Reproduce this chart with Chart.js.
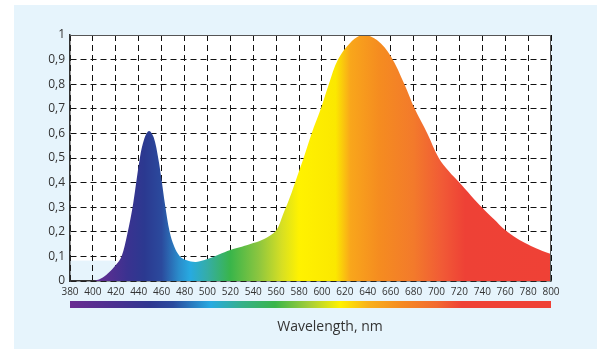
<!DOCTYPE html>
<html>
<head>
<meta charset="utf-8">
<script src="https://cdn.jsdelivr.net/npm/chart.js@4/dist/chart.umd.min.js"></script>
<style>
  html, body { margin: 0; padding: 0; background: #fff; }
  #wrap { position: relative; width: 600px; height: 349px; overflow: hidden; }
  #panel { position: absolute; left: 14px; top: 5px; width: 583px; height: 344px; background: #e6f4fc; }
  #spectrumChart { position: absolute; left: 0; top: 0; }
  #xTitle {
    position: absolute; left: 230px; top: 316px; width: 200px; line-height: 18px;
    text-align: center; font: 14px "Open Sans", sans-serif; color: #333;
  }
</style>
</head>
<body>
<div id="wrap">
  <div id="panel"></div>
  <canvas id="spectrumChart" width="600" height="349"></canvas>
  <div id="xTitle">Wavelength, nm</div>
</div>
<script>
(function () {
  // wavelength (nm) and relative intensity
  const wavelengths = [380, 400, 407, 413, 420, 425, 430, 435, 441, 445, 449, 453, 457, 460, 463, 467, 471, 476, 482, 490, 500, 510, 520, 530, 540, 550, 560, 566, 572, 578, 584, 591, 599, 606, 614, 625, 636, 648, 660, 672, 681, 692, 702, 711, 720, 730, 740, 750, 760, 770, 780, 790, 800];
  const intensity = [0, 0, 0.01, 0.03, 0.065, 0.1, 0.19, 0.31, 0.5, 0.58, 0.61, 0.585, 0.5, 0.41, 0.31, 0.2, 0.14, 0.1, 0.084, 0.077, 0.089, 0.108, 0.126, 0.139, 0.154, 0.172, 0.205, 0.27, 0.34, 0.42, 0.5, 0.6, 0.7, 0.8, 0.9, 0.97, 1.0, 0.98, 0.915, 0.8, 0.7, 0.6, 0.5, 0.445, 0.4, 0.348, 0.298, 0.252, 0.207, 0.174, 0.148, 0.127, 0.11];

  const xTicks = [380, 800, 20]; // min, max, step
  const yTicks = [0, 1, 0.1];

  // colour stops for the filled curve and the spectrum strip (nm -> colour)
  const fillStops = [
    [380, "#6b2c91"], [410, "#5b2e91"], [430, "#3a3290"], [445, "#2b3990"], [460, "#2b4a9d"],
    [475, "#2a8ccb"], [485, "#27aae1"], [500, "#35ada6"], [520, "#39b54a"], [545, "#8dc63f"],
    [565, "#d7df23"], [580, "#fff200"], [612, "#fbe800"], [625, "#f9a61b"], [650, "#f58c20"],
    [680, "#f37a2b"], [705, "#f15a36"], [725, "#ee4136"], [800, "#ef4136"],
  ];
  const stripStops = [
    [380, "#6a2c91"], [420, "#4a3090"], [450, "#2e3790"], [470, "#2a4a9e"], [503, "#27aae1"],
    [530, "#35b08a"], [559, "#39b54a"], [590, "#a8cf38"], [616, "#fff200"], [640, "#f9b21a"],
    [670, "#f58a22"], [700, "#f26a30"], [722, "#ef4136"], [800, "#ef4136"],
  ];

  const points = wavelengths.map((w, i) => ({ x: w, y: intensity[i] }));

  function makeGradient(chart, stops) {
    const x = chart.scales.x;
    const x0 = x.getPixelForValue(xTicks[0]);
    const x1 = x.getPixelForValue(xTicks[1]);
    const g = chart.ctx.createLinearGradient(x0, 0, x1, 0);
    stops.forEach(([w, c]) => g.addColorStop((w - xTicks[0]) / (xTicks[1] - xTicks[0]), c));
    return g;
  }

  const framePlugin = {
    id: "frame",
    beforeDraw(chart) {
      const { ctx, chartArea: a, scales } = chart;
      ctx.save();
      ctx.fillStyle = "#fff";
      ctx.fillRect(a.left, a.top, a.right - a.left, a.bottom - a.top);
      // pale patch left of the curve in the original
      const px0 = scales.x.getPixelForValue(380);
      const px1 = scales.x.getPixelForValue(420);
      const py = scales.y.getPixelForValue(0.083);
      ctx.fillStyle = "#e6f4fc";
      ctx.fillRect(px0, py, px1 - px0, a.bottom - py);
      ctx.restore();
    },
    afterDraw(chart) {
      const { ctx, chartArea: a } = chart;
      ctx.save();
      ctx.strokeStyle = "#555";
      ctx.lineWidth = 1;
      ctx.beginPath();
      ctx.moveTo(a.left, a.top + 0.5);
      ctx.lineTo(a.right - 0.5, a.top + 0.5);
      ctx.lineTo(a.right - 0.5, a.bottom);
      ctx.stroke();
      // spectrum strip under the tick labels
      ctx.fillStyle = makeGradient(chart, stripStops);
      ctx.fillRect(a.left, 301, a.right - a.left, 7);
      ctx.restore();
    },
  };

  const tickFont = { family: "'Open Sans', sans-serif" };

  new Chart(document.getElementById("spectrumChart"), {
    type: "line",
    data: {
      datasets: [
        {
          data: points,
          fill: "origin",
          borderWidth: 0,
          pointRadius: 0,
          tension: 0.35,
          backgroundColor: (ctx) => (ctx.chart.chartArea ? makeGradient(ctx.chart, fillStops) : "#f7941d"),
        },
      ],
    },
    options: {
      responsive: false,
      animation: false,
      events: [],
      layout: { padding: { left: 14, right: 49, top: 35, bottom: 48 } },
      plugins: { legend: { display: false }, tooltip: { enabled: false } },
      scales: {
        x: {
          type: "linear",
          min: xTicks[0],
          max: xTicks[1],
          z: 1,
          afterFit(scale) { scale.height = 20; },
          grid: { color: "#111", lineWidth: 1, drawTicks: false },
          border: { display: true, color: "#333", width: 1.5, dash: [6, 4] },
          ticks: {
            stepSize: xTicks[2],
            autoSkip: false,
            maxRotation: 0,
            padding: 5,
            color: "#333",
            font: { ...tickFont, size: 10 },
          },
        },
        y: {
          min: yTicks[0],
          max: yTicks[1],
          z: 1,
          afterFit(scale) { scale.width = 56; },
          grid: { color: "#111", lineWidth: 1, drawTicks: false },
          border: { display: true, color: "#333", width: 1.5, dash: [6, 4] },
          ticks: {
            stepSize: yTicks[2],
            padding: 5,
            color: "#333",
            font: { ...tickFont, size: 12 },
            callback: (v) => (v === 0 || v === 1 ? String(v) : Number(v).toFixed(1).replace(".", ",")),
          },
        },
      },
    },
    plugins: [framePlugin],
  });
})();
</script>
</body>
</html>
